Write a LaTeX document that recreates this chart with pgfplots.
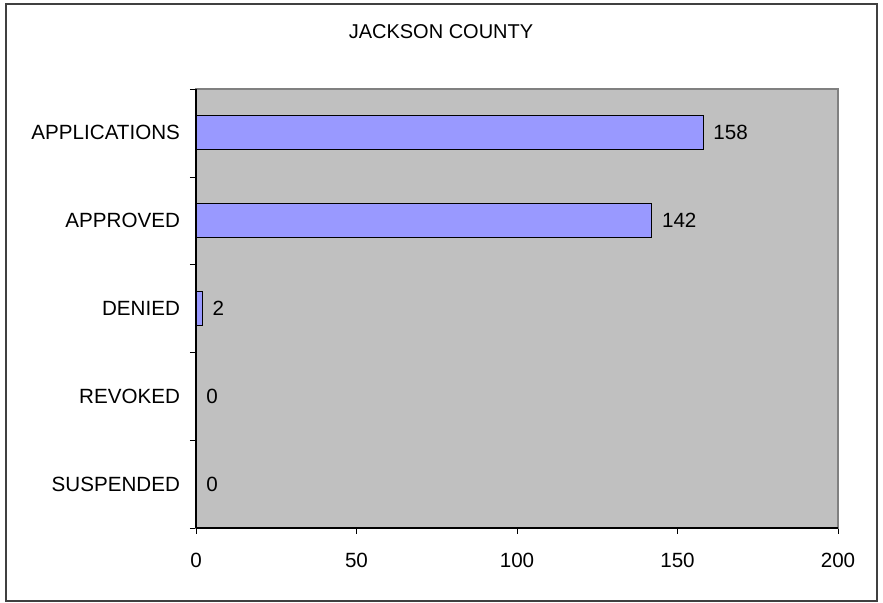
\documentclass[border=0pt]{standalone}
\usepackage{fontspec}
\setmainfont{Liberation Sans}
\usepackage{pgfplots}
\pgfplotsset{compat=1.18}
\definecolor{barfill}{HTML}{9999FF}
\definecolor{plotbg}{HTML}{C0C0C0}
\definecolor{frame}{HTML}{808080}
\begin{document}
\begin{tikzpicture}
\path (-98pt,-37.5pt) rectangle (343.5pt,264pt);
\draw[black!75, line width=0.6pt] (-95pt,-36.5pt) rectangle (340.5pt,262pt);
\node[font=\fontsize{10}{12}\selectfont] at (122.5pt,248pt) {JACKSON COUNTY};
\begin{axis}[
  at={(0pt,0pt)}, anchor=south west,
  scale only axis, width=321pt, height=219.5pt,
  xbar, bar width=17pt,
  xmin=0, xmax=200,
  ymin=-0.5, ymax=4.5,
  xtick={0,50,100,150,200},
  ytick={0,1,2,3,4},
  yticklabels={SUSPENDED,REVOKED,DENIED,APPROVED,APPLICATIONS},
  minor ytick={-0.5,0.5,1.5,2.5,3.5,4.5},
  major tick length=3pt,
  minor tick length=3pt,
  tick align=outside,
  xtick pos=bottom, ytick pos=left,
  major x tick style={black},
  major y tick style={draw=none},
  minor y tick style={black},
  axis line style={frame, line width=0.6pt},
  axis background/.style={fill=plotbg},
  tick label style={font=\fontsize{10.3}{12}\selectfont},
  yticklabel style={xshift=-1.5pt},
  xticklabel style={yshift=-6pt},
  /pgf/number format/assume math mode=true,
  nodes near coords,
  nodes near coords style={font=\fontsize{10.3}{12}\selectfont, anchor=west, xshift=1.5pt},
  point meta=x,
  clip=false,
]
\addplot[fill=barfill, draw=black, line width=0.6pt] coordinates {
  (0,0) (0,1) (2,2) (142,3) (158,4)
};
\draw[black, line width=0.6pt] (rel axis cs:0,0) -- (rel axis cs:0,1);
\draw[black, line width=0.6pt] (rel axis cs:0,0) -- (rel axis cs:1,0);
\end{axis}
\end{tikzpicture}
\end{document}
